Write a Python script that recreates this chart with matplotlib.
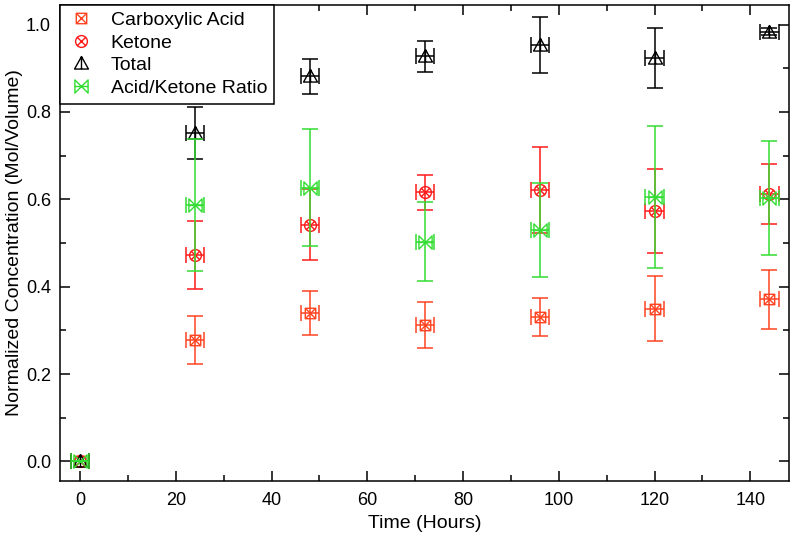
import numpy as np
from matplotlib import pyplot as plt, rcParams
from matplotlib.path import Path
from matplotlib.ticker import MultipleLocator

# data
hours = [0, 24, 48, 72, 96, 120, 144]
acid = [0.0, 0.278, 0.340, 0.312, 0.330, 0.350, 0.371]
acid_err = [0.0, 0.054, 0.050, 0.052, 0.043, 0.074, 0.068]
ketone = [0.0, 0.473, 0.542, 0.616, 0.621, 0.574, 0.612]
ketone_err = [0.0, 0.078, 0.082, 0.040, 0.098, 0.096, 0.068]
total = [0.0, 0.752, 0.882, 0.927, 0.954, 0.923, 0.984]
total_err = [0.0, 0.059, 0.040, 0.036, 0.064, 0.069, 0.007]
ratio = [0.0, 0.587, 0.627, 0.503, 0.530, 0.605, 0.603]
ratio_err = [0.0, 0.150, 0.133, 0.091, 0.108, 0.163, 0.130]
time_err = 1.9

rcParams.update({
    'font.family': ['Liberation Sans', 'DejaVu Sans'],
    'font.size': 12,
    'axes.linewidth': 1.1,
})

M, L, C = Path.MOVETO, Path.LINETO, Path.CLOSEPOLY

# open markers with a cross / line inside
sq = Path([(-1, -1), (1, -1), (1, 1), (-1, 1), (-1, -1),
           (-1, -1), (1, 1), (-1, 1), (1, -1)],
          [M, L, L, L, C, M, L, M, L])
circ = Path.make_compound_path(
    Path.unit_circle(),
    Path([(-0.707, -0.707), (0.707, 0.707), (-0.707, 0.707), (0.707, -0.707)],
         [M, L, M, L]))
tri = Path([(-1, -0.8), (1, -0.8), (0, 1), (-1, -0.8), (0, 1), (0, -0.8)],
           [M, L, L, C, M, L])
bow = Path([(-1, -1), (-1, 1), (1, -1), (1, 1), (-1, -1), (-1, 0), (1, 0)],
           [M, L, L, L, C, M, L])

series = [
    ("Carboxylic Acid", acid, acid_err, '#ff4422', sq, 7.5),
    ("Ketone", ketone, ketone_err, '#ff1a1a', circ, 8.5),
    ("Total", total, total_err, 'black', tri, 10),
    ("Acid/Ketone Ratio", ratio, ratio_err, '#33dd33', bow, 9.5),
]

fig = plt.figure(figsize=(7.95, 5.43), dpi=100)
ax = fig.add_axes([0.0755, 0.114, 0.917, 0.877])

for name, y, e, col, mk, ms in series:
    ax.errorbar(hours, y, yerr=e, xerr=time_err, fmt='none', ecolor=col,
                elinewidth=1.1, capsize=5.5, capthick=1.1)
    ax.plot(hours, y, linestyle='none', marker=mk, markersize=ms,
            markerfacecolor='none', markeredgecolor=col, markeredgewidth=1.0,
            label=name)

ax.set_xlim(-4.2, 148.1)
ax.set_ylim(-0.045, 1.045)
ax.xaxis.set_major_locator(MultipleLocator(20))
ax.xaxis.set_minor_locator(MultipleLocator(10))
ax.yaxis.set_major_locator(MultipleLocator(0.2))
ax.yaxis.set_minor_locator(MultipleLocator(0.1))
ax.yaxis.set_major_formatter(plt.FormatStrFormatter('%.1f'))
ax.tick_params(which='both', direction='in', top=True, right=True, width=1.1)
ax.tick_params(which='major', length=7, labelsize=13)
ax.tick_params(which='minor', length=4)
ax.tick_params(axis='x', which='major', pad=8)
ax.tick_params(axis='y', which='major', pad=6.5)

ax.set_xlabel("Time (Hours)", fontsize=14, labelpad=4)
ax.set_ylabel("Normalized Concentration (Mol/Volume)", fontsize=14, labelpad=2)

leg = ax.legend(loc='upper left', borderaxespad=0, fancybox=False,
                edgecolor='black', framealpha=1, fontsize=14,
                handlelength=1.5, handletextpad=0.75, labelspacing=0.25,
                borderpad=0.35)
leg.get_frame().set_linewidth(1.1)

fig.savefig('out.png', dpi=100)
